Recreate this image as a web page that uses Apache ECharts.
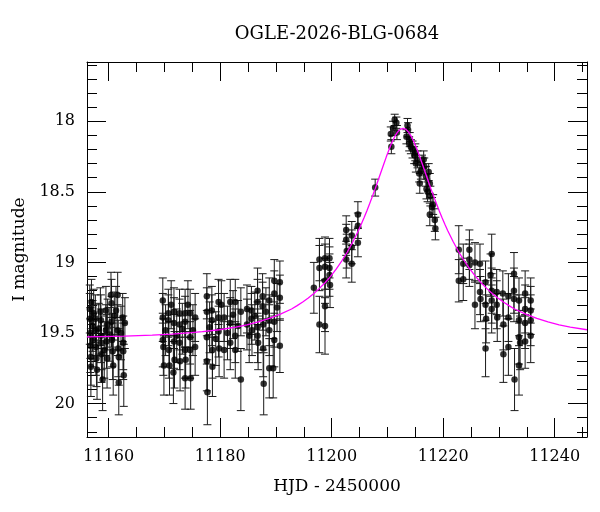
<!DOCTYPE html>
<html>
<head>
<meta charset="utf-8">
<title>OGLE-2026-BLG-0684</title>
<script src="https://cdn.jsdelivr.net/npm/echarts@6/dist/echarts.min.js"></script>
<style>
  html, body { margin: 0; padding: 0; background: #fff; }
  #main { width: 600px; height: 512px; }
</style>
</head>
<body>
<div id="main"></div>
<script>
// photometry: [HJD-2450000, I mag, error]
var obsSeason1 = [
  [11156.6,19.33,0.17],[11156.6,19.40,0.18],[11156.7,19.50,0.18],[11156.7,19.59,0.19],[11156.8,19.67,0.20],[11156.8,19.74,0.21],
  [11156.9,19.28,0.16],[11157.1,19.45,0.18],[11157.2,19.55,0.19],[11157.3,19.36,0.17],[11157.6,19.40,0.17],[11157.7,19.48,0.18],
  [11157.7,19.60,0.20],[11157.8,19.68,0.20],[11157.9,19.76,0.21],[11158.2,19.47,0.18],
  [11158.5,19.35,0.17],[11158.6,19.41,0.18],[11158.6,19.52,0.19],[11158.7,19.57,0.19],[11158.7,19.65,0.20],[11158.9,19.83,0.22],
  [11159.2,19.62,0.20],[11159.5,19.34,0.17],[11159.5,19.48,0.18],[11159.6,19.56,0.19],[11159.7,19.68,0.21],[11159.8,19.44,0.18],
  [11160.2,19.51,0.19],[11160.4,19.23,0.16],[11160.5,19.29,0.17],[11160.5,19.42,0.18],[11160.6,19.55,0.19],[11160.7,19.63,0.20],
  [11160.8,19.73,0.21],[11161.0,19.38,0.17],[11161.3,19.34,0.17],
  [11161.6,19.23,0.16],[11161.6,19.48,0.18],[11161.7,19.61,0.20],[11161.8,19.67,0.20],[11161.8,19.85,0.23],
  [11162.2,19.50,0.19],[11162.5,19.39,0.17],[11162.6,19.57,0.19],[11162.6,19.63,0.20],[11162.7,19.80,0.22],[11162.9,19.43,0.18]
];
var obsSeason2 = [
  [11169.7,19.27,0.16],[11169.7,19.39,0.17],[11169.7,19.55,0.19],[11169.8,19.60,0.20],[11169.9,19.73,0.21],
  [11170.2,19.48,0.18],[11170.7,19.36,0.17],[11170.7,19.41,0.18],[11170.8,19.62,0.20],[11170.9,19.73,0.21],
  [11171.2,19.30,0.17],[11171.7,19.35,0.17],[11171.7,19.43,0.18],[11171.7,19.56,0.19],[11171.8,19.69,0.20],[11171.6,19.78,0.22],
  [11172.2,19.52,0.19],[11172.7,19.36,0.17],[11172.7,19.44,0.18],[11172.7,19.57,0.19],[11172.8,19.70,0.21],
  [11173.2,19.47,0.18],[11173.7,19.36,0.17],[11173.7,19.42,0.18],[11173.7,19.62,0.20],[11173.8,19.69,0.20],[11173.7,19.82,0.22],
  [11174.2,19.30,0.17],[11174.6,19.36,0.17],[11174.6,19.53,0.19],[11174.6,19.62,0.20],[11174.7,19.82,0.22],
  [11175.1,19.48,0.18],[11175.5,19.39,0.17],[11175.5,19.60,0.20],
  [11177.6,19.24,0.16],[11177.6,19.35,0.17],[11177.6,19.53,0.19],[11177.6,19.70,0.21],[11177.7,19.92,0.23],
  [11178.1,19.46,0.18],[11178.5,19.34,0.17],[11178.5,19.41,0.18],[11178.6,19.62,0.20],[11178.6,19.74,0.21],
  [11179.2,19.54,0.19],[11179.7,19.28,0.16],[11179.7,19.39,0.17],[11179.7,19.49,0.18],[11179.8,19.61,0.20],
  [11180.2,19.30,0.17],[11180.7,19.39,0.17],[11180.7,19.62,0.20],
  [11181.3,19.50,0.19],[11181.8,19.28,0.16],[11181.8,19.43,0.18],[11181.8,19.57,0.19],
  [11182.3,19.37,0.17],[11182.7,19.28,0.16],[11182.7,19.52,0.19],[11182.7,19.62,0.20],
  [11183.2,19.45,0.18],[11183.7,19.35,0.17],[11183.7,19.83,0.22]
];
var obsSeason3 = [
  [11184.8,19.33,0.17],[11184.8,19.44,0.18],[11185.2,19.52,0.19],[11185.6,19.34,0.17],[11185.6,19.40,0.18],[11185.7,19.48,0.18],
  [11186.2,19.38,0.17],[11186.7,19.20,0.16],[11186.7,19.28,0.16],[11186.7,19.46,0.18],[11186.7,19.52,0.19],[11186.8,19.57,0.19],
  [11187.6,19.24,0.16],[11187.6,19.31,0.17],[11187.7,19.44,0.18],[11187.7,19.61,0.20],[11187.8,19.86,0.22],
  [11188.2,19.35,0.17],[11188.8,19.27,0.16],[11188.8,19.41,0.18],[11188.8,19.48,0.18],[11188.8,19.75,0.21],[11189.5,19.75,0.21],
  [11189.7,19.13,0.15],[11189.7,19.22,0.16],[11189.7,19.42,0.18],[11189.7,19.55,0.19],
  [11190.2,19.32,0.17],[11190.7,19.14,0.15],[11190.7,19.25,0.16],[11190.7,19.59,0.19]
];
var obsRise = [
  [11196.8,19.18,0.18],[11197.8,18.98,0.15],[11197.8,19.04,0.16],[11197.8,19.44,0.20],
  [11198.8,18.97,0.15],[11198.8,19.03,0.16],[11198.8,19.13,0.16],[11198.8,19.31,0.18],[11198.8,19.45,0.20],
  [11199.6,18.97,0.14],[11199.6,19.04,0.15],[11199.6,19.09,0.15],[11199.7,19.16,0.16],
  [11202.6,18.77,0.10],[11202.6,18.84,0.11],[11202.7,18.92,0.12],[11202.6,18.98,0.13],
  [11203.6,18.81,0.10],[11203.6,18.89,0.12],[11203.6,19.01,0.13],
  [11204.7,18.66,0.09],[11204.7,18.74,0.09],[11204.7,18.86,0.10],
  [11207.8,18.47,0.06]
];
var obsPeak = [
  [11210.6,18.09,0.05],[11210.7,18.18,0.05],[11211.0,18.05,0.05],[11211.3,17.99,0.04],[11211.6,18.01,0.04],[11211.7,18.08,0.05]
];
var obsFall = [
  [11213.4,18.11,0.05],[11213.6,18.03,0.05],[11213.7,18.06,0.05],[11213.9,18.16,0.05],[11214.0,18.13,0.05],[11214.2,18.18,0.05],
  [11214.5,18.20,0.06],[11214.8,18.24,0.06],[11215.0,18.22,0.06],[11215.1,18.30,0.06],[11215.4,18.27,0.06],[11215.7,18.37,0.06],
  [11215.8,18.44,0.07],[11216.0,18.35,0.06],[11216.2,18.30,0.06],[11216.5,18.27,0.06],[11216.6,18.32,0.06],[11216.9,18.39,0.07],
  [11217.0,18.48,0.07],[11217.2,18.50,0.07],[11217.4,18.36,0.06],[11217.6,18.44,0.07],[11217.7,18.53,0.07],[11217.6,18.66,0.08],
  [11218.0,18.61,0.07],[11218.2,18.59,0.07],[11218.5,18.70,0.08],[11218.6,18.76,0.08]
];
var obsTail = [
  [11222.8,18.91,0.17],[11222.8,19.13,0.15],[11223.6,19.01,0.14],[11223.6,19.12,0.15],
  [11224.7,18.91,0.14],[11224.7,18.98,0.14],[11224.7,19.02,0.15],
  [11225.7,19.00,0.14],[11225.7,19.30,0.17],
  [11226.6,19.01,0.14],[11226.6,19.21,0.16],[11226.7,19.26,0.16],
  [11227.6,19.14,0.15],[11227.6,19.30,0.17],[11227.7,19.40,0.17],[11227.6,19.61,0.20],
  [11228.5,19.09,0.15],[11228.7,18.94,0.14],[11228.7,19.20,0.16],[11228.7,19.27,0.16],[11228.7,19.33,0.17],
  [11229.6,19.21,0.16],[11229.6,19.30,0.17],[11229.7,19.39,0.17],
  [11230.7,19.22,0.16],[11230.8,19.44,0.18],[11230.8,19.65,0.20],
  [11231.7,19.24,0.16],[11231.7,19.39,0.17],[11231.7,19.60,0.20],
  [11232.7,19.08,0.15],[11232.7,19.20,0.16],[11232.7,19.26,0.16],[11232.8,19.83,0.22],
  [11233.6,19.27,0.16],[11233.6,19.41,0.18],[11233.6,19.53,0.19],[11233.6,19.73,0.21],[11233.8,19.57,0.19],
  [11234.7,19.22,0.16],[11234.7,19.33,0.17],[11234.7,19.43,0.18],[11234.7,19.56,0.19],
  [11235.7,19.27,0.16],[11235.7,19.34,0.17],[11235.7,19.41,0.18],[11235.7,19.52,0.19]
];

// model light curve
var modelHjd = [11156.1,11162.8,11167.8,11171.3,11174.8,11176.8,11179.8,11182.8,11184.8,11186.8,
  11188.8,11190.8,11192.8,11193.8,11194.8,11195.8,11196.8,11197.8,11198.8,11199.8,
  11200.8,11201.8,11202.8,11203.8,11204.8,11205.3,11205.8,11206.3,11206.8,11207.3,
  11207.8,11208.3,11208.8,11209.3,11209.8,11210.3,11210.8,11211.3,11211.8,11212.3,
  11212.8,11213.3,11213.8,11214.3,11214.8,11215.3,11215.8,11216.3,11216.8,11217.3,
  11217.8,11218.3,11218.8,11219.3,11219.8,11220.3,11220.8,11221.8,11222.8,11223.8,
  11224.8,11225.8,11226.8,11227.8,11228.8,11229.8,11230.8,11231.8,11232.8,11234.8,
  11236.8,11238.8,11240.8,11242.8,11245.8];
var modelMag = [19.528,19.522,19.515,19.508,19.498,19.490,19.477,19.458,19.442,19.422,
  19.397,19.366,19.330,19.306,19.280,19.252,19.220,19.184,19.144,19.099,
  19.048,18.990,18.926,18.854,18.774,18.730,18.684,18.636,18.585,18.532,
  18.478,18.422,18.365,18.308,18.252,18.199,18.150,18.109,18.077,18.057,
  18.051,18.057,18.077,18.109,18.150,18.199,18.252,18.308,18.365,18.422,
  18.478,18.532,18.585,18.636,18.684,18.730,18.774,18.854,18.926,18.990,
  19.048,19.099,19.144,19.184,19.220,19.252,19.280,19.306,19.330,19.366,
  19.397,19.422,19.442,19.458,19.477];

// ticks
var majorX = [11160,11180,11200,11220,11240];
var minorX = [11165,11170,11175,11185,11190,11195,11205,11210,11215,11225,11230,11235,11245];
var majorY = [18,18.5,19,19.5,20];
var minorY = [17.6,17.7,17.8,17.9,18.1,18.2,18.3,18.4,18.6,18.7,18.8,18.9,19.1,19.2,19.3,19.4,19.6,19.7,19.8,19.9,20.1,20.2];

var xMin = 11156.1, xMax = 11245.8;
var yMin = 17.58, yMax = 20.237;
var FONT = 'DejaVu Serif';

var obs = [].concat(obsSeason1, obsSeason2, obsSeason3, obsRise, obsPeak, obsFall, obsTail);
var model = modelHjd.map(function (t, i) { return [t, modelMag[i]]; });

function xAx(pos, ticks, isMajor) {
  return {
    type: 'value', position: pos, min: xMin, max: xMax,
    splitLine: { show: false },
    axisLine: { show: isMajor, onZero: false, lineStyle: { color: '#000', width: 1 } },
    axisTick: { show: true, inside: true, length: isMajor ? 19 : 10, customValues: ticks,
      lineStyle: { color: '#000', width: 1 } },
    axisLabel: { show: isMajor && pos === 'bottom', customValues: ticks, margin: 12,
      color: '#000', fontFamily: FONT, fontSize: 16,
      formatter: function (v) { return String(v); } },
    name: (isMajor && pos === 'bottom') ? 'HJD - 2450000' : '',
    nameLocation: 'middle', nameGap: 41,
    nameTextStyle: { color: '#000', fontFamily: FONT, fontSize: 17 }
  };
}
function yAx(pos, ticks, isMajor) {
  return {
    type: 'value', position: pos, inverse: true, min: yMin, max: yMax,
    splitLine: { show: false },
    axisLine: { show: isMajor, onZero: false, lineStyle: { color: '#000', width: 1 } },
    axisTick: { show: true, inside: true, length: isMajor ? 19 : 10, customValues: ticks,
      lineStyle: { color: '#000', width: 1 } },
    axisLabel: { show: isMajor && pos === 'left', customValues: ticks, margin: 12,
      color: '#000', fontFamily: FONT, fontSize: 16,
      formatter: function (v) { return String(v); } },
    name: (isMajor && pos === 'left') ? 'I magnitude' : '',
    nameLocation: 'middle', nameGap: 58, nameRotate: 90,
    nameTextStyle: { color: '#000', fontFamily: FONT, fontSize: 17 }
  };
}

var option = {
  backgroundColor: '#fff',
  animation: false,
  title: {
    text: 'OGLE-2026-BLG-0684', left: 337, top: 25, padding: 0, textAlign: 'center',
    textStyle: { color: '#000', fontFamily: FONT, fontSize: 18, fontWeight: 'normal' }
  },
  grid: { left: 87, right: 13, top: 62, bottom: 75 },
  xAxis: [xAx('bottom', majorX, true), xAx('bottom', minorX, false), xAx('top', majorX, true), xAx('top', minorX, false)],
  yAxis: [yAx('left', majorY, true), yAx('left', minorY, false), yAx('right', majorY, true), yAx('right', minorY, false)],
  series: [
    {
      type: 'custom', name: 'errors', data: obs, z: 2,
      encode: { x: 0, y: 1 },
      renderItem: function (params, api) {
        var t = api.value(0), m = api.value(1), e = api.value(2);
        var a = api.coord([t, m - e]), b = api.coord([t, m + e]);
        var w = 4;
        var st = { stroke: '#1a1a1a', lineWidth: 1 };
        return { type: 'group', children: [
          { type: 'line', shape: { x1: a[0], y1: a[1], x2: b[0], y2: b[1] }, style: st },
          { type: 'line', shape: { x1: a[0] - w, y1: a[1], x2: a[0] + w, y2: a[1] }, style: st },
          { type: 'line', shape: { x1: b[0] - w, y1: b[1], x2: b[0] + w, y2: b[1] }, style: st }
        ] };
      }
    },
    {
      type: 'scatter', name: 'I', data: obs, z: 3,
      symbol: 'circle', symbolSize: 6.5,
      itemStyle: { color: '#000' }
    },
    {
      type: 'line', name: 'model', data: model, z: 4,
      showSymbol: false, smooth: false,
      lineStyle: { color: '#ff00ff', width: 1.3 }
    }
  ]
};

var myChart = echarts.init(document.getElementById('main'));
myChart.setOption(option);
</script>
</body>
</html>
